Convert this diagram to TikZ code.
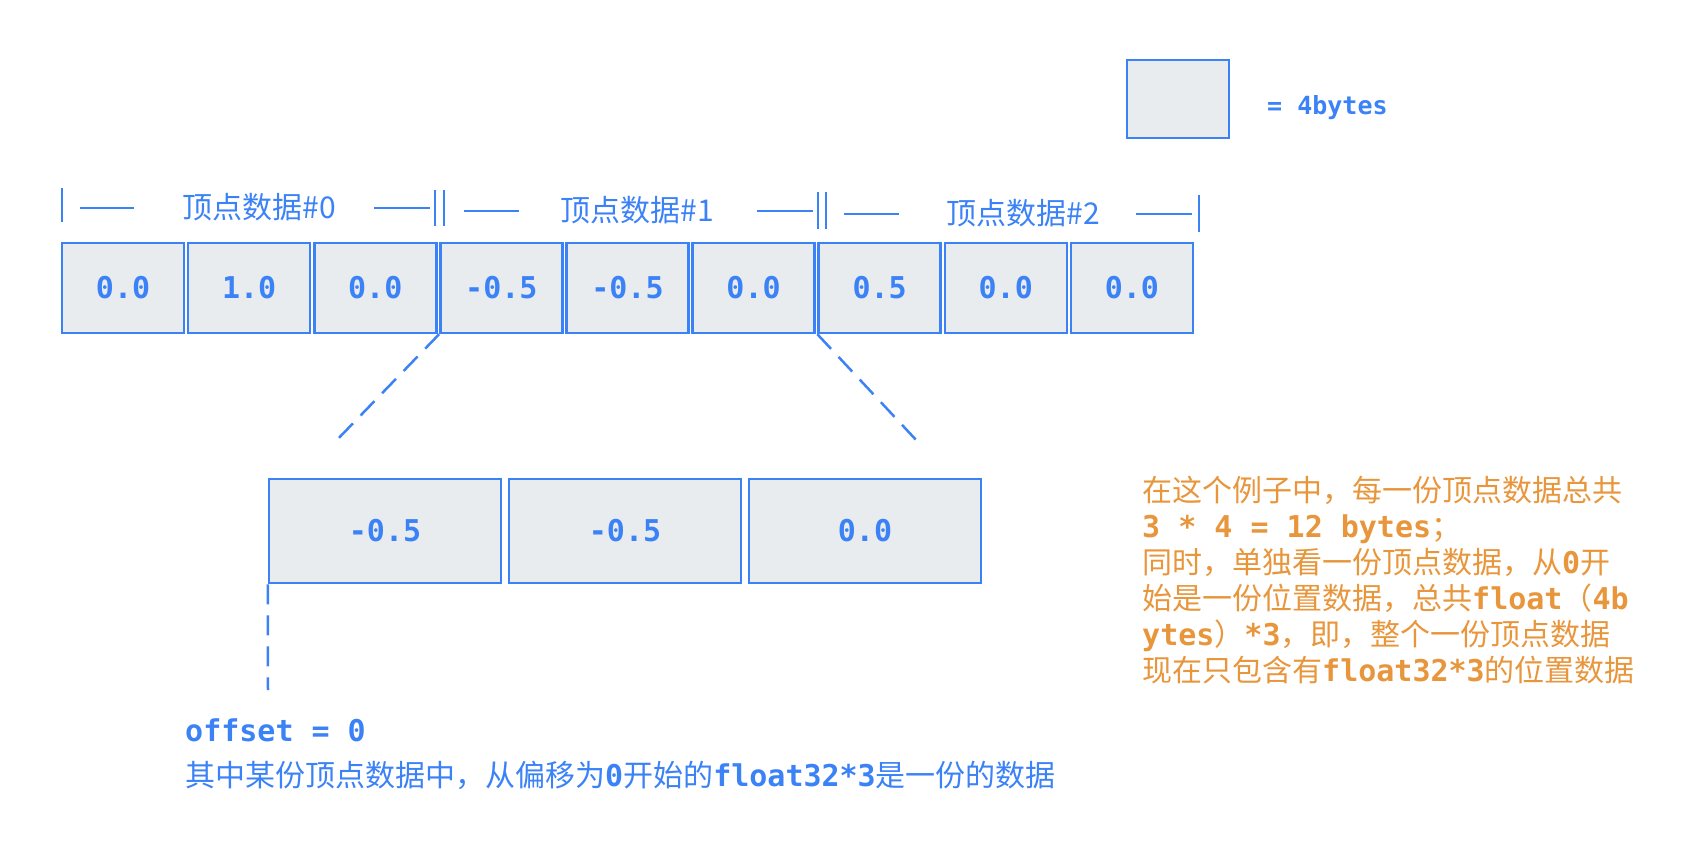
\documentclass[tikz,border=0pt]{standalone}
\usepackage{fontspec}
\setmonofont{DejaVu Sans Mono}
\newfontfamily\cjk{Noto Sans CJK SC}
\definecolor{lineblue}{HTML}{3B82F6}
\definecolor{cellgray}{HTML}{E9ECEF}
\definecolor{noteorange}{HTML}{E8963C}
\newcommand{\zh}[1]{{\cjk\mdseries #1}}
\def\cellw{126.1}
\def\xstart{60}
\def\rowy{288}
\def\fsize{\fontsize{30}{36}\selectfont}

\begin{document}
\begin{tikzpicture}[x=1pt, y=-1pt,
    cell/.style={draw=lineblue, fill=cellgray, line width=2.5pt, minimum width=122pt, minimum height=90pt, inner sep=0pt, text=lineblue, font=\fsize\ttfamily\bfseries},
    wide cell/.style={cell, minimum width=232pt, minimum height=104pt},
    grouptitle/.style={text=lineblue, font=\fsize\cjk, inner sep=0pt},
    tickline/.style={draw=lineblue, line width=2.5pt},
    zoomline/.style={draw=lineblue, line width=2.5pt, dash pattern=on 20pt off 11pt},
    codetext/.style={text=lineblue, font=\fsize\ttfamily\bfseries, inner sep=0pt}]
    % Canvas in pixel units, y going down.
    \useasboundingbox (0,0) rectangle (1684,854);

    % Legend: one cell is four bytes.
    \node[cell, minimum width=102pt, minimum height=78pt] (unit) at (1178,99) {};
    \node[codetext, anchor=west, font=\fontsize{25}{30}\selectfont\ttfamily\bfseries] (unittext) at (1267,108) {= 4bytes};

    % Nine floats of the vertex buffer.
    \foreach \v [count=\i] in {0.0,1.0,0.0,-0.5,-0.5,0.0,0.5,0.0,0.0} {
            \node[cell] (c\i) at ({\xstart+(\i-0.5)*\cellw}, \rowy) {\v};
        }

    % Titles of the three vertices.
    \foreach \k/\x/\y in {0/259/207, 1/637/210, 2/1023/213} {
            \node[grouptitle] (g\k) at (\x,\y) {顶点数据\#\k};
        }
    % Bracket strokes round the titles.
    \draw[tickline] (62,188) -- (62,222);
    \draw[tickline] (80,208) -- (134,208);
    \draw[tickline] (374,208) -- (430,208);
    \draw[tickline] (435,190) -- (435,226);
    \draw[tickline] (444,190) -- (444,226);
    \draw[tickline] (464,211) -- (519,211);
    \draw[tickline] (757,211) -- (813,211);
    \draw[tickline] (818,192) -- (818,229);
    \draw[tickline] (826,192) -- (826,229);
    \draw[tickline] (844,214) -- (899,214);
    \draw[tickline] (1136,214) -- (1192,214);
    \draw[tickline] (1199,195) -- (1199,232);

    % Vertex #1 blown up.
    \foreach \v [count=\i] in {-0.5,-0.5,0.0} {
            \node[wide cell] (b\i) at ({385+(\i-1)*240}, 531) {\v};
        }
    \coordinate (zl) at (333,444);
    \coordinate (zr) at (918,442);
    \coordinate (off) at (268,690);
    \draw[zoomline] (c4.south west) -- (zl);
    \draw[zoomline] (c7.south west) -- (zr);
    \draw[zoomline] (b1.south west) -- (off);

    % Offset note.
    \node[codetext, anchor=base west] (offset) at (185,741) {offset = 0};
    \node[codetext, anchor=base west] (desc) at (185,786)
    {\zh{其中某份顶点数据中，从偏移为}0\zh{开始的}float32*3\zh{是一份的数据}};

    % Size note.
    \node[codetext, text=noteorange, anchor=north west, align=left] (note) at (1142,476)
    {\zh{在这个例子中，每一份顶点数据总共}\\
        3 * 4 = 12 bytes\zh{；}\\
        \zh{同时，单独看一份顶点数据，从}0\zh{开}\\
        \zh{始是一份位置数据，总共}float\zh{（}4b\\
        ytes\zh{）}*3\zh{，即，整个一份顶点数据}\\
        \zh{现在只包含有}float32*3\zh{的位置数据}};
\end{tikzpicture}
\end{document}
